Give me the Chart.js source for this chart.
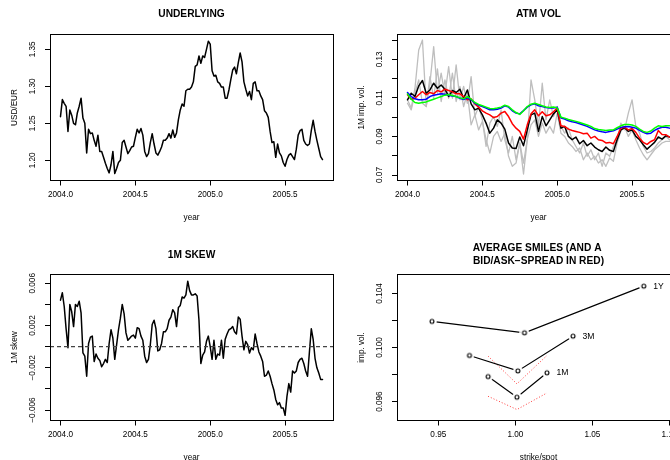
<!DOCTYPE html>
<html>
<head>
<meta charset="utf-8">
<script src="https://cdn.jsdelivr.net/npm/chart.js@4.4.1/dist/chart.umd.min.js"></script>
<style>
  html, body { margin: 0; padding: 0; background: #fff; overflow: hidden; width: 670px; height: 460px; }
  canvas { position: absolute; }
</style>
</head>
<body>
<canvas id="underlying" width="347" height="240" style="left:0;top:0"></canvas>
<canvas id="atmvol" width="347" height="240" style="left:347px;top:0"></canvas>
<canvas id="skew" width="347" height="240" style="left:0;top:240px"></canvas>
<canvas id="smiles" width="347" height="240" style="left:347px;top:240px"></canvas>
<script>
// ---- time grid -------------------------------------------------------
const SAMPLE_START = 2004.0;
const SPOT_STEP = 0.0125;   // spot and skew sampled every 0.0125 years
const VOL_STEP = 0.025;     // vol series sampled every 0.025 years

// ---- USD/EUR spot ----------------------------------------------------
const usdEur = [
  1.259, 1.282, 1.277, 1.273, 1.239, 1.268, 1.261, 1.250, 1.248, 1.264,
  1.273, 1.284, 1.257, 1.250, 1.210, 1.242, 1.236, 1.237, 1.227, 1.219,
  1.234, 1.212, 1.212, 1.204, 1.196, 1.189, 1.183, 1.194, 1.212, 1.182,
  1.189, 1.197, 1.200, 1.224, 1.227, 1.218, 1.209, 1.213, 1.218, 1.219,
  1.231, 1.242, 1.237, 1.243, 1.234, 1.212, 1.205, 1.209, 1.224, 1.236,
  1.222, 1.210, 1.207, 1.212, 1.218, 1.227, 1.227, 1.230, 1.236, 1.230,
  1.241, 1.231, 1.237, 1.255, 1.268, 1.276, 1.273, 1.294, 1.296, 1.296,
  1.299, 1.306, 1.327, 1.329, 1.341, 1.331, 1.341, 1.339, 1.350, 1.361,
  1.357, 1.321, 1.314, 1.315, 1.306, 1.304, 1.299, 1.299, 1.284, 1.284,
  1.295, 1.309, 1.322, 1.326, 1.317, 1.332, 1.345, 1.333, 1.306, 1.296,
  1.287, 1.293, 1.282, 1.304, 1.306, 1.294, 1.294, 1.287, 1.282, 1.267,
  1.264, 1.258, 1.239, 1.224, 1.225, 1.204, 1.222, 1.210, 1.206, 1.197,
  1.192, 1.201, 1.207, 1.209, 1.205, 1.201, 1.215, 1.234, 1.240, 1.242,
  1.227, 1.222, 1.220, 1.222, 1.240, 1.254, 1.239, 1.227, 1.216, 1.205,
  1.201
];

// ---- 1M skew ---------------------------------------------------------
const skew1M = [
  0.0044, 0.0051, 0.0038, 0.0017, -0.0001, 0.0040, 0.0033, 0.0019, 0.0040, 0.0038,
  0.0043, 0.0032, -0.0006, -0.0009, -0.0028, 0.0003, 0.0009, 0.0010, -0.0014, -0.0007,
  -0.0011, -0.0013, -0.0019, -0.0016, -0.0012, -0.0015, 0.0003, 0.0016, 0.0008, -0.0012,
  0.0002, 0.0016, 0.0027, 0.0040, 0.0031, 0.0013, 0.0006, 0.0008, 0.0010, 0.0011,
  0.0008, 0.0018, 0.0017, 0.0010, 0.0006, -0.0009, -0.0015, -0.0012, 0.0002, 0.0021,
  0.0025, 0.0017, -0.0004, -0.0003, 0.0003, 0.0014, 0.0014, 0.0017, 0.0025, 0.0028,
  0.0035, 0.0032, 0.0019, 0.0037, 0.0039, 0.0047, 0.0046, 0.0049, 0.0062, 0.0053,
  0.0049, 0.0049, 0.0050, 0.0048, 0.0025, -0.0016, -0.0008, -0.0005, 0.0005, 0.0010,
  0.0000, -0.0012, 0.0006, -0.0012, -0.0007, -0.0008, 0.0006, -0.0011, 0.0007, 0.0012,
  0.0016, 0.0017, 0.0019, 0.0014, 0.0012, 0.0028, 0.0026, 0.0010, -0.0003, 0.0005,
  0.0002, -0.0006, -0.0001, -0.0003, 0.0012, 0.0003, -0.0005, -0.0009, -0.0014, -0.0028,
  -0.0027, -0.0023, -0.0028, -0.0035, -0.0041, -0.0050, -0.0055, -0.0053, -0.0058, -0.0058,
  -0.0065, -0.0047, -0.0035, -0.0043, -0.0023, -0.0025, -0.0023, -0.0015, -0.0012, -0.0011,
  -0.0016, -0.0023, -0.0028, -0.0005, 0.0017, 0.0007, -0.0011, -0.0020, -0.0025, -0.0031,
  -0.0031
];
const skewReference = 0;

// ---- ATM vols (1M implied) -----------------------------------------------
const volGreyA = [
  0.1090, 0.1047, 0.1150, 0.1348, 0.1400, 0.1055, 0.1176, 0.1366, 0.1124, 0.1228,
  0.1116, 0.1262, 0.1098, 0.1271, 0.1090, 0.1159, 0.1072, 0.1210, 0.1003, 0.1055,
  0.0986, 0.0848, 0.0969, 0.1003, 0.0952, 0.1038, 0.0883, 0.0814, 0.0900, 0.0779,
  0.0866, 0.0762, 0.0883, 0.1193, 0.1090, 0.0952, 0.1176, 0.0986, 0.1090, 0.1003,
  0.1055, 0.0952, 0.0917, 0.0943, 0.0883, 0.0848, 0.0814, 0.0866, 0.0797, 0.0831,
  0.0779, 0.0814, 0.0745, 0.0814, 0.0797, 0.0848, 0.0883, 0.0969, 0.0934, 0.1021,
  0.1090, 0.0952, 0.0917, 0.0848, 0.0814, 0.0822, 0.0840, 0.0866, 0.0883, 0.0900,
  0.0883
];
const volGreyB = [
  0.1072, 0.1038, 0.1124, 0.1193, 0.1072, 0.1055, 0.1210, 0.1098, 0.1250, 0.1081,
  0.1193, 0.1098, 0.1228, 0.1081, 0.1159, 0.1055, 0.1124, 0.0960, 0.1012, 0.0934,
  0.0978, 0.0883, 0.0814, 0.0900, 0.0926, 0.0874, 0.0917, 0.0797, 0.0745, 0.0762,
  0.0866, 0.0705, 0.0883, 0.0960, 0.0986, 0.0900, 0.0969, 0.0917, 0.0952, 0.0917,
  0.1021, 0.0917, 0.0900, 0.0866, 0.0848, 0.0822, 0.0840, 0.0779, 0.0814, 0.0779,
  0.0797, 0.0762, 0.0779, 0.0745, 0.0788, 0.0771, 0.0866, 0.0926, 0.0952, 0.0900,
  0.0934, 0.0883, 0.0840, 0.0805, 0.0779, 0.0805, 0.0831, 0.0848, 0.0866, 0.0874,
  0.0874
];
const volBlack = [
  0.1090, 0.1124, 0.1107, 0.1162, 0.1190, 0.1124, 0.1141, 0.1176, 0.1150, 0.1167,
  0.1145, 0.1107, 0.1138, 0.1128, 0.1145, 0.1098, 0.1141, 0.1069, 0.1038, 0.1047,
  0.1012, 0.0969, 0.0917, 0.0943, 0.0986, 0.0969, 0.0938, 0.0866, 0.0840, 0.0838,
  0.0897, 0.0852, 0.0934, 0.1012, 0.1021, 0.0926, 0.1003, 0.0955, 0.0986, 0.1017,
  0.1038, 0.0943, 0.0952, 0.0900, 0.0883, 0.0897, 0.0862, 0.0879, 0.0852, 0.0866,
  0.0845, 0.0831, 0.0822, 0.0845, 0.0828, 0.0822, 0.0883, 0.0934, 0.0945, 0.0926,
  0.0934, 0.0900, 0.0883, 0.0857, 0.0834, 0.0852, 0.0869, 0.0897, 0.0886, 0.0903,
  0.0897
];
const volRed = [
  0.1116, 0.1093, 0.1098, 0.1116, 0.1133, 0.1116, 0.1128, 0.1121, 0.1138, 0.1131,
  0.1145, 0.1138, 0.1131, 0.1121, 0.1121, 0.1107, 0.1090, 0.1095, 0.1069, 0.1052,
  0.1033, 0.1021, 0.1012, 0.0998, 0.1003, 0.1021, 0.1029, 0.1003, 0.0966, 0.0943,
  0.0926, 0.0886, 0.0960, 0.1017, 0.1038, 0.1007, 0.1028, 0.1007, 0.1012, 0.1028,
  0.1047, 0.0955, 0.0952, 0.0938, 0.0931, 0.0926, 0.0921, 0.0914, 0.0917, 0.0891,
  0.0900, 0.0883, 0.0879, 0.0866, 0.0869, 0.0862, 0.0900, 0.0943, 0.0948, 0.0934,
  0.0941, 0.0921, 0.0891, 0.0869, 0.0859, 0.0874, 0.0883, 0.0931, 0.0910, 0.0909,
  0.0897
];
const volBlue = [
  0.1128, 0.1107, 0.1095, 0.1090, 0.1090, 0.1093, 0.1107, 0.1114, 0.1117, 0.1121,
  0.1119, 0.1114, 0.1110, 0.1107, 0.1098, 0.1091, 0.1100, 0.1090, 0.1072, 0.1062,
  0.1055, 0.1047, 0.1038, 0.1038, 0.1041, 0.1047, 0.1059, 0.1052, 0.1033, 0.1021,
  0.1017, 0.1034, 0.1052, 0.1064, 0.1069, 0.1059, 0.1055, 0.1050, 0.1047, 0.1047,
  0.1052, 0.0995, 0.0990, 0.0981, 0.0976, 0.0972, 0.0966, 0.0959, 0.0952, 0.0943,
  0.0934, 0.0928, 0.0924, 0.0921, 0.0926, 0.0929, 0.0938, 0.0947, 0.0950, 0.0952,
  0.0948, 0.0943, 0.0931, 0.0921, 0.0914, 0.0917, 0.0931, 0.0941, 0.0947, 0.0948,
  0.0943
];
const volGreen = [
  0.1121, 0.1093, 0.1076, 0.1072, 0.1076, 0.1079, 0.1086, 0.1093, 0.1100, 0.1107,
  0.1114, 0.1117, 0.1112, 0.1107, 0.1100, 0.1095, 0.1107, 0.1093, 0.1076, 0.1066,
  0.1059, 0.1052, 0.1045, 0.1043, 0.1047, 0.1052, 0.1062, 0.1055, 0.1038, 0.1024,
  0.1014, 0.1033, 0.1055, 0.1067, 0.1072, 0.1066, 0.1059, 0.1053, 0.1050, 0.1053,
  0.1048, 0.1000, 0.0995, 0.0988, 0.0983, 0.0978, 0.0972, 0.0966, 0.0959, 0.0952,
  0.0941, 0.0936, 0.0934, 0.0931, 0.0933, 0.0934, 0.0945, 0.0955, 0.0962, 0.0962,
  0.0959, 0.0952, 0.0938, 0.0926, 0.0921, 0.0928, 0.0943, 0.0955, 0.0952, 0.0955,
  0.0955
];

// ---- average smiles -------------------------------------------------------
const smileNames = ['1Y', '3M', '1M'];
const strikes1Y = [0.9459, 1.0059, 1.0833];
const vols1Y    = [0.10193, 0.10109, 0.10454];
const strikes3M = [0.9702, 1.0016, 1.0374];
const vols3M    = [0.09941, 0.09827, 0.10084];
const strikes1M = [0.9823, 1.0010, 1.0205];
const vols1M    = [0.09785, 0.09632, 0.09813];
const askVols1M = [0.09936, 0.09731, 0.09941];
const bidVols1M = [0.09639, 0.09541, 0.09664];

// ---- axis ticks -------------------------------------------------------------
const yearTicks = [2004.0, 2004.5, 2005.0, 2005.5];
const yearLabels = ['2004.0', '2004.5', '2005.0', '2005.5'];
const spotTicks = [1.20, 1.25, 1.30, 1.35];
const spotLabels = ['1.20', '1.25', '1.30', '1.35'];
const volTicks = [0.07, 0.08, 0.09, 0.10, 0.11, 0.12, 0.13, 0.14];
const volLabelTicks = [0.07, 0.09, 0.11, 0.13];
const volLabels = ['0.07', '0.09', '0.11', '0.13'];
const skewTicks = [-0.006, -0.004, -0.002, 0, 0.002, 0.004, 0.006];
const skewLabelTicks = [-0.006, -0.002, 0.002, 0.006];
const skewLabels = ['\u22120.006', '\u22120.002', '0.002', '0.006'];
const strikeTicks = [0.95, 1.00, 1.05, 1.10];
const strikeLabels = ['0.95', '1.00', '1.05', '1.10'];
const smileVolTicks = [0.096, 0.098, 0.100, 0.102, 0.104];
const smileVolLabelTicks = [0.096, 0.100, 0.104];
const smileVolLabels = ['0.096', '0.100', '0.104'];

// ---- helpers ---------------------------------------------------------------
const FONT = '"Liberation Sans", Arial, Helvetica, sans-serif';

function timeSeries(values, step) {
  return values.map((v, i) => ({ x: SAMPLE_START + i * step, y: v }));
}
function pairs(xs, ys) {
  return xs.map((x, i) => ({ x, y: ys[i] }));
}
function line(data, color, width, extra) {
  return Object.assign({
    data, borderColor: color, borderWidth: width, pointRadius: 0,
    tension: 0, fill: false, borderJoinStyle: 'round', borderCapStyle: 'round'
  }, extra || {});
}

function axis(min, max, ticks, horizontal) {
  return {
    type: 'linear', min, max,
    afterBuildTicks: s => { s.ticks = ticks.map(v => ({ value: v })); },
    afterFit: s => { if (horizontal) s.height = 59.5; else s.width = 50; },
    ticks: { display: false },
    grid: { display: true, drawOnChartArea: false, drawTicks: true, tickLength: 5, color: '#000', lineWidth: 1 },
    border: { display: true, color: '#000', width: 1 }
  };
}

function align(p) { return Math.round(p - 0.5) + 0.5; }

// frame, titles, tick labels and smile tags
const panelText = {
  id: 'panelText',
  afterDraw(chart, args, o) {
    const { ctx, chartArea: a } = chart;
    const xs = chart.scales.x, ys = chart.scales.y;
    ctx.save();
    ctx.strokeStyle = '#000';
    ctx.lineWidth = 1;
    const l = align(a.left), r = align(a.right), t = align(a.top), b = align(a.bottom);
    ctx.strokeRect(l, t, r - l, b - t);

    ctx.fillStyle = '#000';
    ctx.textAlign = 'center';
    ctx.textBaseline = 'middle';
    const cx = (a.left + a.right) / 2;
    ctx.font = 'bold 10.2px ' + FONT;
    o.title.forEach((s, k) => ctx.fillText(s, cx, o.titleY[k]));

    ctx.font = '8.2px ' + FONT;
    o.xTicks.forEach((v, k) => ctx.fillText(o.xLabels[k], xs.getPixelForValue(v), 195));
    ctx.fillText(o.xTitle, cx, 217.3);

    o.yTicks.forEach((v, k) => {
      ctx.save();
      ctx.translate(32.5, ys.getPixelForValue(v));
      ctx.rotate(-Math.PI / 2);
      ctx.fillText(o.yLabels[k], 0, 0);
      ctx.restore();
    });
    ctx.save();
    ctx.translate(14.5, (a.top + a.bottom) / 2);
    ctx.rotate(-Math.PI / 2);
    ctx.fillText(o.yTitle, 0, 0);
    ctx.restore();

    if (o.tags) {
      ctx.textAlign = 'left';
      ctx.font = '8.6px ' + FONT;
      o.tags.forEach(tag => {
        const meta = chart.getDatasetMeta(tag.dataset);
        const pt = meta.data[meta.data.length - 1];
        ctx.fillText(tag.text, pt.x + 9.5, pt.y);
      });
    }
    ctx.restore();
  }
};

function makeChart(id, datasets, sc, text) {
  return new Chart(document.getElementById(id), {
    type: 'line',
    data: { datasets },
    options: {
      responsive: false,
      animation: false,
      devicePixelRatio: 1,
      parsing: true,
      layout: { padding: { left: 0, right: 14, top: 34.5, bottom: 0 } },
      plugins: { legend: { display: false }, tooltip: { enabled: false }, panelText: text },
      scales: {
        x: axis(sc.xMin, sc.xMax, sc.xTicks, true),
        y: axis(sc.yMin, sc.yMax, sc.yTicks, false)
      }
    },
    plugins: [panelText]
  });
}

// open circle marker with a white halo, leaving a gap in the line around each point
function ringMarker() {
  const c = document.createElement('canvas');
  c.width = 10; c.height = 10;
  const g = c.getContext('2d');
  g.fillStyle = '#fff';
  g.beginPath(); g.arc(5, 5, 4.8, 0, 2 * Math.PI); g.fill();
  g.strokeStyle = '#000'; g.lineWidth = 1.1;
  g.beginPath(); g.arc(5, 5, 1.95, 0, 2 * Math.PI); g.stroke();
  return c;
}

const YEAR_MIN = 2003.93, YEAR_MAX = 2005.82;

// ---- UNDERLYING ---------------------------------------------------------------
makeChart('underlying',
  [line(timeSeries(usdEur, SPOT_STEP), '#000', 1.5)],
  { xMin: YEAR_MIN, xMax: YEAR_MAX, xTicks: yearTicks, yMin: 1.1727, yMax: 1.3700, yTicks: spotTicks },
  { title: ['UNDERLYING'], titleY: [13.8], xTicks: yearTicks, xLabels: yearLabels, xTitle: 'year',
    yTicks: spotTicks, yLabels: spotLabels, yTitle: 'USD/EUR' });

// ---- ATM VOL ------------------------------------------------------------------
makeChart('atmvol',
  [
    line(timeSeries(volGreen, VOL_STEP), '#00ff00', 1.5, { order: 0 }),
    line(timeSeries(volBlue, VOL_STEP), '#0000ff', 1.5, { order: 1 }),
    line(timeSeries(volRed, VOL_STEP), '#ff0000', 1.5, { order: 2 }),
    line(timeSeries(volBlack, VOL_STEP), '#000', 1.5, { order: 3 }),
    line(timeSeries(volGreyA, VOL_STEP), '#bebebe', 1.3, { order: 4 }),
    line(timeSeries(volGreyB, VOL_STEP), '#bebebe', 1.3, { order: 5 })
  ],
  { xMin: YEAR_MIN, xMax: YEAR_MAX, xTicks: yearTicks, yMin: 0.06715, yMax: 0.14286, yTicks: volTicks },
  { title: ['ATM VOL'], titleY: [13.8], xTicks: yearTicks, xLabels: yearLabels, xTitle: 'year',
    yTicks: volLabelTicks, yLabels: volLabels, yTitle: '1M imp. vol.' });

// ---- 1M SKEW ------------------------------------------------------------------
makeChart('skew',
  [
    line([{ x: YEAR_MIN, y: skewReference }, { x: YEAR_MAX, y: skewReference }], '#444', 1.2,
         { borderDash: [4, 3], borderCapStyle: 'butt', order: 0 }),
    line(timeSeries(skew1M, SPOT_STEP), '#000', 1.5, { order: 1 })
  ],
  { xMin: YEAR_MIN, xMax: YEAR_MAX, xTicks: yearTicks, yMin: -0.00699, yMax: 0.00683, yTicks: skewTicks },
  { title: ['1M SKEW'], titleY: [14.8], xTicks: yearTicks, xLabels: yearLabels, xTitle: 'year',
    yTicks: skewLabelTicks, yLabels: skewLabels, yTitle: '1M skew' });

// ---- AVERAGE SMILES -------------------------------------------------------------
const marker = ringMarker();
const smileStyle = { pointStyle: marker, pointRadius: 3, borderJoinStyle: 'miter' };
const spreadStyle = { borderDash: [1, 2], borderCapStyle: 'butt', order: 5 };
makeChart('smiles',
  [
    line(pairs(strikes1Y, vols1Y), '#000', 1.2, Object.assign({ order: 0 }, smileStyle)),
    line(pairs(strikes3M, vols3M), '#000', 1.2, Object.assign({ order: 1 }, smileStyle)),
    line(pairs(strikes1M, vols1M), '#000', 1.2, Object.assign({ order: 2 }, smileStyle)),
    line(pairs(strikes1M, askVols1M), '#ff3b3b', 1, spreadStyle),
    line(pairs(strikes1M, bidVols1M), '#ff3b3b', 1, spreadStyle)
  ],
  { xMin: 0.9232, xMax: 1.1068, xTicks: strikeTicks, yMin: 0.0946, yMax: 0.1054, yTicks: smileVolTicks },
  { title: ['AVERAGE SMILES (AND A ', 'BID/ASK\u2212SPREAD IN RED)'], titleY: [8.5, 21],
    xTicks: strikeTicks, xLabels: strikeLabels, xTitle: 'strike/spot',
    yTicks: smileVolLabelTicks, yLabels: smileVolLabels, yTitle: 'imp. vol.',
    tags: smileNames.map((text, k) => ({ text, dataset: k })) });
</script>
</body>
</html>
